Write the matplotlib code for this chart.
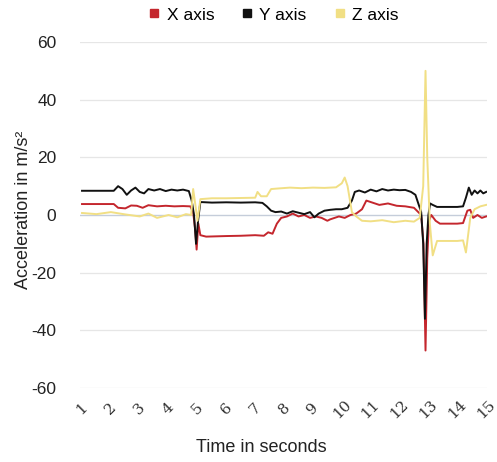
import matplotlib
matplotlib.use("Agg")
import matplotlib.pyplot as plt
from matplotlib.lines import Line2D

plt.rcParams['font.family'] = ['Liberation Sans', 'DejaVu Sans']

# ---- data ----
x_t = [1.0, 2.1, 2.25, 2.5, 2.7, 2.9, 3.1, 3.3, 3.6, 3.9, 4.2, 4.5, 4.75, 4.85, 4.92, 4.97,
       5.03, 5.1, 5.3, 6.0, 6.5, 7.0, 7.3, 7.45, 7.6, 7.75, 7.9, 8.1, 8.3, 8.5, 8.7, 8.9,
       9.1, 9.3, 9.5, 9.6, 9.75, 9.9, 10.1, 10.3, 10.5, 10.7, 10.85, 11.0, 11.3, 11.6, 11.9,
       12.2, 12.5, 12.65, 12.75, 12.83, 12.9, 12.96, 13.02, 13.1, 13.25, 13.4, 13.7, 14.0,
       14.2, 14.35, 14.45, 14.55, 14.7, 14.85, 15.0]
x_v = [3.8, 3.8, 2.5, 2.3, 3.3, 3.2, 2.5, 3.4, 3.0, 3.2, 3.0, 3.1, 3.0, 1, -5, -12,
       -3, -7, -7.5, -7.3, -7.2, -7.0, -7.2, -6, -6.5, -3, -1, -0.5, 0.5, -0.5, 0, -1,
       -0.5, -1, -2, -1.5, -1, -0.5, -1, 0, 0.5, 2, 5, 4.5, 3.5, 4, 3.2,
       3, 2.5, 1, 0, -10, -47, -15, -2, 0, -2, -3, -3, -3,
       -2.8, 1.5, 1.8, -1, 0, -1, -0.5]

y_t = [1.0, 2.1, 2.25, 2.4, 2.55, 2.7, 2.85, 3.0, 3.15, 3.3, 3.5, 3.7, 3.9, 4.1, 4.3, 4.5,
       4.7, 4.8, 4.88, 4.95, 5.02, 5.1, 5.5, 6.0, 6.5, 7.0, 7.25, 7.4, 7.55, 7.7, 7.9, 8.1,
       8.3, 8.5, 8.7, 8.9, 9.05, 9.2, 9.4, 9.6, 9.8, 10.0, 10.2, 10.35, 10.45, 10.6, 10.8,
       11.0, 11.2, 11.4, 11.6, 11.8, 12.0, 12.2, 12.4, 12.55, 12.65, 12.75, 12.82, 12.88,
       12.94, 13.0, 13.06, 13.15, 13.3, 13.6, 14.0, 14.2, 14.3, 14.4, 14.5, 14.6, 14.7,
       14.8, 14.9, 15.0]
y_v = [8.4, 8.4, 10, 9, 7, 8.5, 9.5, 8, 7.5, 9, 8.5, 9, 8.3, 8.8, 8.5, 8.8,
       8.3, 5, 0, -10, -2, 4.5, 4.3, 4.4, 4.3, 4.4, 4.2, 3, 1.5, 1, 1.2, 0.5,
       1.3, 0.8, 0.3, 1.0, -0.8, 0.5, 1.5, 1.8, 2, 2, 2.5, 5, 8, 8.5, 7.8,
       8.8, 8.2, 9, 8.5, 8.8, 8.6, 8.7, 8, 7, 4, 1, -10, -36,
       -10, 0, 4, 3.5, 2.8, 2.8, 2.8, 3, 6, 9.5, 7, 8.5, 7.5,
       8.5, 7.5, 8]

z_t = [1.0, 1.5, 2.0, 2.5, 3.0, 3.3, 3.6, 4.0, 4.3, 4.6, 4.78, 4.85, 4.92, 5.0, 5.1, 5.5,
       6.0, 6.5, 7.0, 7.08, 7.2, 7.4, 7.55, 7.8, 8.2, 8.6, 9.0, 9.4, 9.8, 10.0, 10.1, 10.2,
       10.35, 10.5, 10.7, 11.0, 11.4, 11.8, 12.2, 12.5, 12.7, 12.82, 12.9, 12.96, 13.05,
       13.15, 13.3, 13.6, 14.0, 14.2, 14.3, 14.45, 14.6, 14.8, 15.0]
z_v = [0.7, 0.3, 1.0, 0.2, -0.5, 0.5, -1, 0, -0.8, 0.3, 0, 9, 4, -2, 5.5, 5.8,
       5.8, 5.9, 6.0, 8, 6.5, 6.5, 9, 9.2, 9.5, 9.3, 9.5, 9.4, 9.6, 11, 13, 10,
       1, -0.5, -2, -2.2, -1.8, -2.5, -2, -2.3, -1, 10, 50, 20, -3,
       -14, -9, -9, -9, -8.8, -13, -1, 2, 3, 3.5]

series_names = ['X axis', 'Y axis', 'Z axis']
series_colors = ['#c4262d', '#111111', '#f1df84']
tick_labels = [str(i) for i in range(1, 16)]
y_ticks = [-60, -40, -20, 0, 20, 40, 60]

# ---- figure ----
fig = plt.figure(figsize=(4.97, 4.62), dpi=100)
ax = fig.add_axes([80/497, 1-388/462, (487-80)/497, (388-42)/462])

for v in y_ticks:
    if v == 0:
        ax.axhline(v, color='#c5cdda', lw=1.0, zorder=1)
    else:
        ax.axhline(v, color='#e6e6e6', lw=0.9, zorder=1)

ax.plot(x_t, x_v, color=series_colors[0], lw=1.4, zorder=3)
ax.plot(y_t, y_v, color=series_colors[1], lw=1.4, zorder=4)
ax.plot(z_t, z_v, color=series_colors[2], lw=1.4, zorder=5)

ax.set_xlim(0.93, 15.03)
ax.set_ylim(-60, 60)
ax.set_yticks(y_ticks)
ax.set_yticklabels([str(v) for v in y_ticks], fontsize=12.5, color='#222222')
ax.set_xticks(range(1, 16))
ax.set_xticklabels(tick_labels, rotation=45, fontsize=11, color='#333333',
                   family=['DejaVu Serif'], ha='center', va='center')
ax.tick_params(axis='y', length=0, pad=17)
ax.tick_params(axis='x', length=0, pad=15)
for s in ax.spines.values():
    s.set_visible(False)

fig.text(24/497, 1-210/462, 'Acceleration in m/s²', rotation=90, ha='center',
         va='center', fontsize=13, color='#222222')
fig.text(261/497, 1-447/462, 'Time in seconds', ha='center', va='center',
         fontsize=13, color='#222222')

handles = [Line2D([], [], marker='s', ls='none', color=c, markersize=6) for c in series_colors]
fig.legend(handles, series_names, loc='center', bbox_to_anchor=(272/497, 1-15/462),
           ncol=3, frameon=False, fontsize=12.5, handletextpad=0.2,
           columnspacing=1.4, handlelength=1.0)

fig.savefig('out.png', dpi=100)
